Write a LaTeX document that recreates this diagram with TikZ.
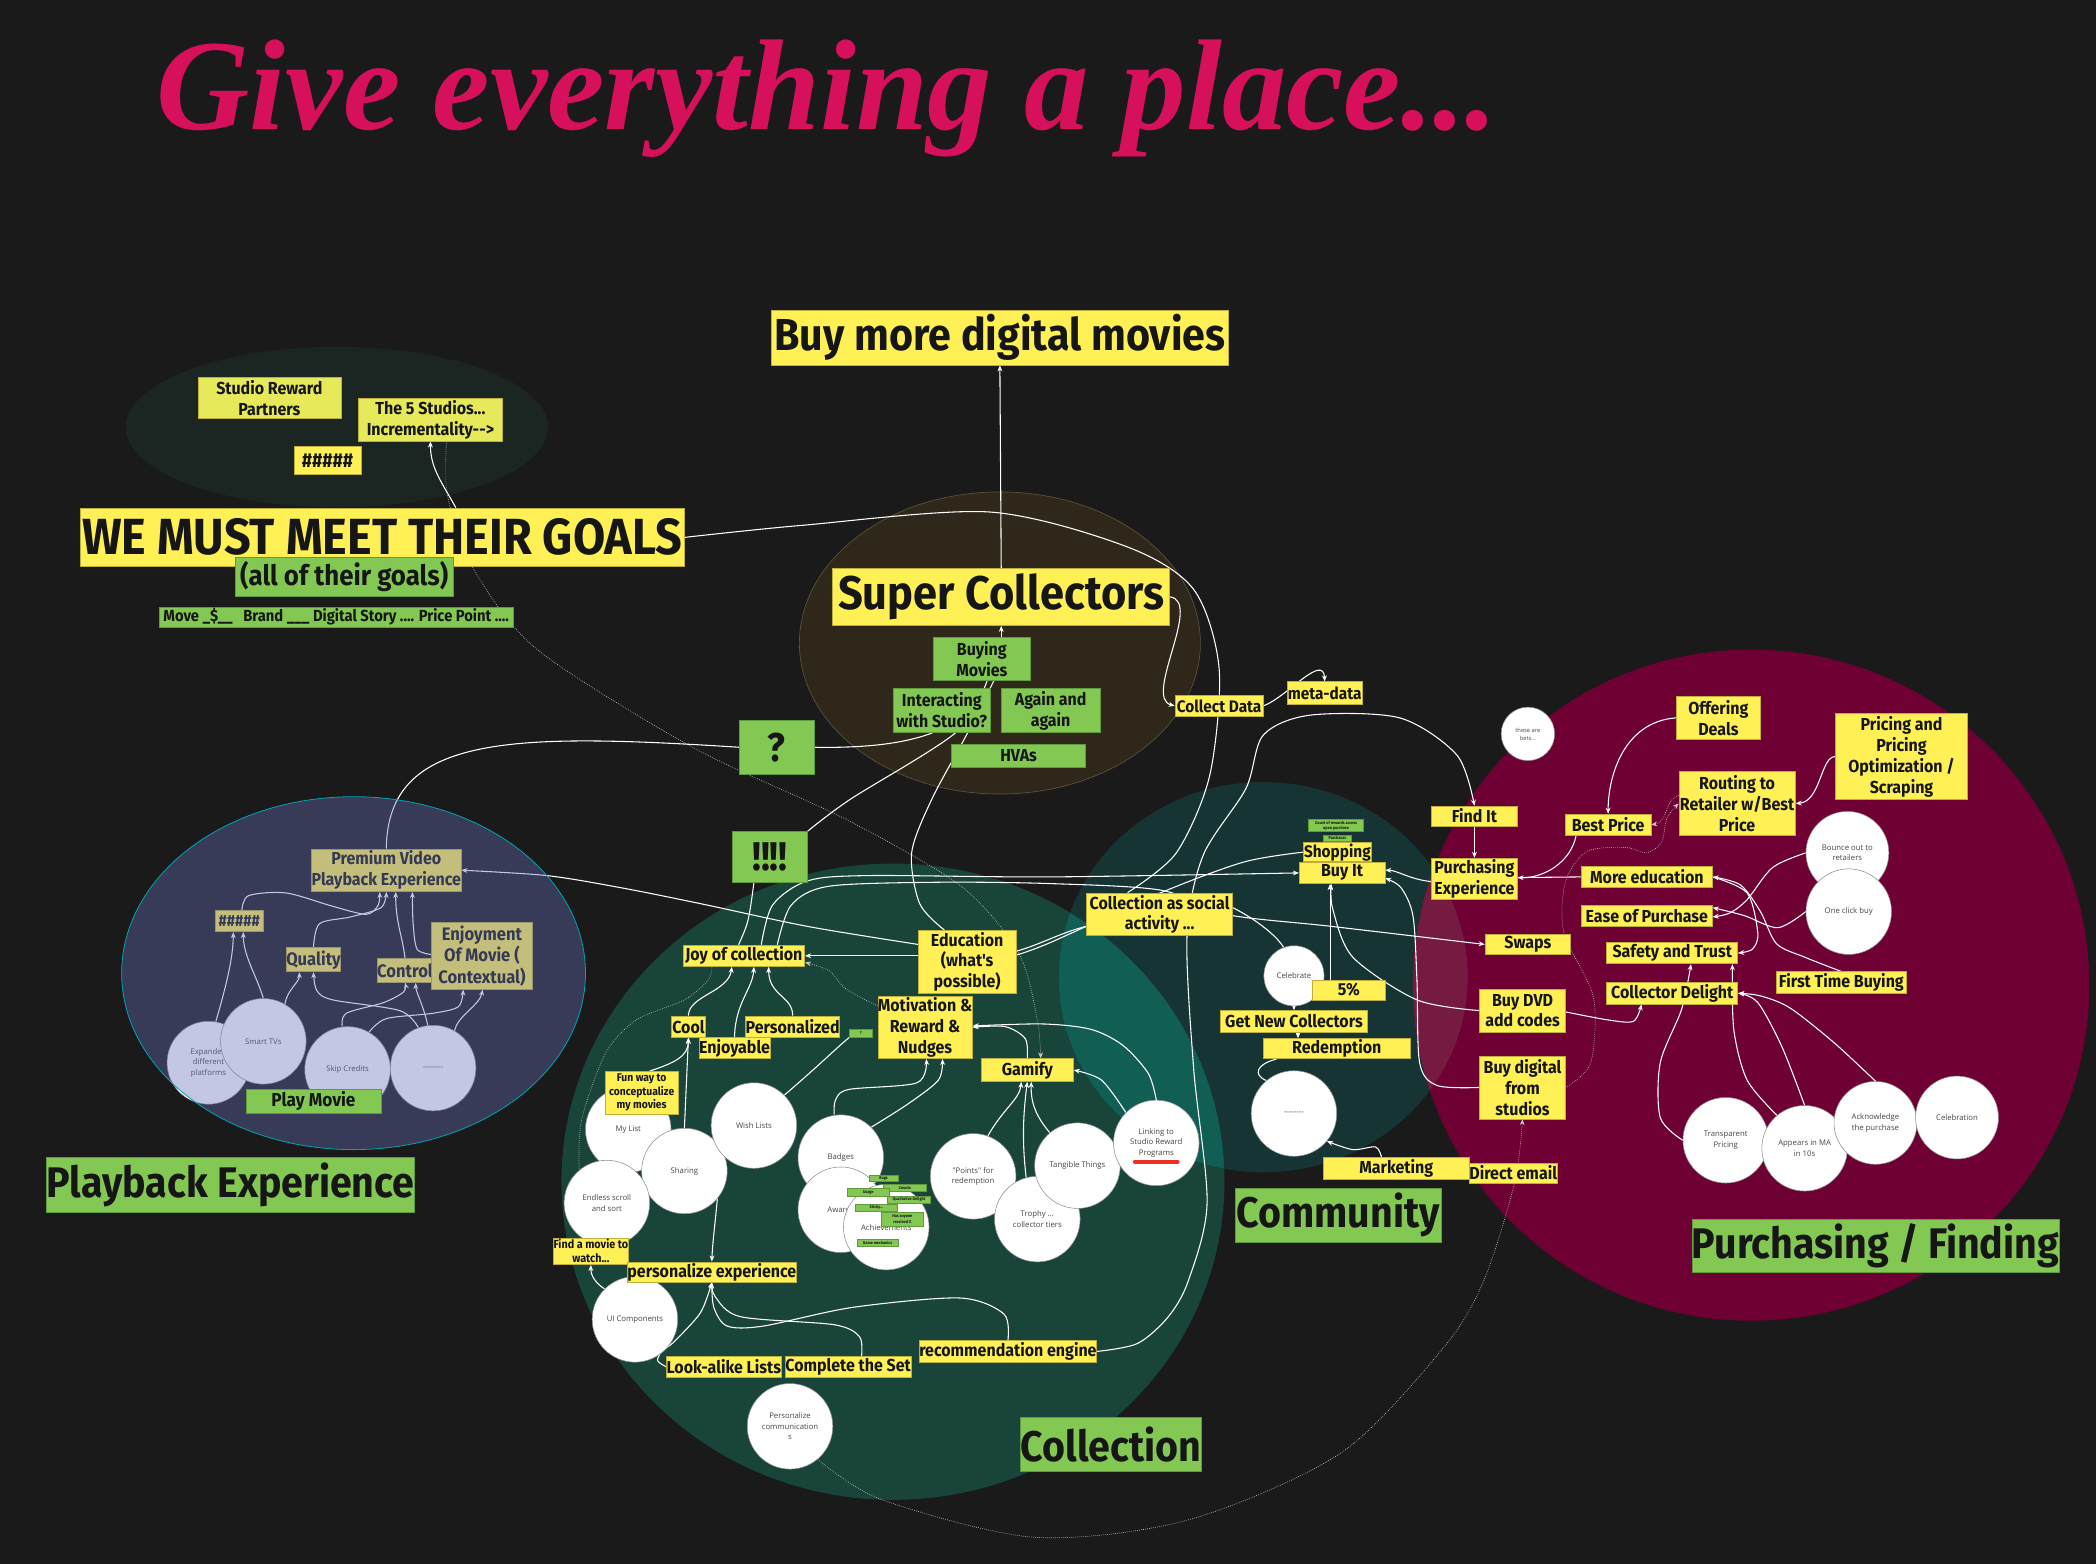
\documentclass[tikz,border=0pt]{standalone}
\usepackage{fontspec}
\usetikzlibrary{arrows.meta,calc}
\newfontfamily\boxfont{Fira Sans}[FakeStretch=0.92]
\newfontfamily\bubfont{Open Sans}
\newfontfamily\headfont{Liberation Serif}
\newcommand\fsz[1]{\fontsize{#1}{\dimexpr#1pt*6/5\relax}\selectfont}

\definecolor{bgC}{RGB}{26,26,26}
\definecolor{studioC}{RGB}{27,37,33}
\definecolor{superC}{RGB}{46,39,26}
\definecolor{superL}{RGB}{92,82,62}
\definecolor{collC}{RGB}{24,68,58}
\definecolor{commC}{RGB}{22,52,52}
\definecolor{ccOv}{RGB}{17,94,84}
\definecolor{purC}{RGB}{111,0,52}
\definecolor{cpOv}{RGB}{117,27,66}
\definecolor{pbC}{RGB}{103,113,185}
\definecolor{pbL}{RGB}{0,165,175}
\definecolor{yel}{RGB}{255,240,85}
\definecolor{yelP}{RGB}{229,233,90}
\definecolor{yelD}{RGB}{190,175,60}
\definecolor{grn}{RGB}{132,200,84}
\definecolor{grnD}{RGB}{95,155,60}
\definecolor{ink}{RGB}{22,22,22}
\definecolor{ringC}{RGB}{140,140,140}
\definecolor{bubT}{RGB}{70,70,70}
\definecolor{titleC}{RGB}{215,16,92}
\definecolor{redbar}{RGB}{236,48,40}

\pgfdeclarelayer{bg}
\pgfdeclarelayer{edges}
\pgfdeclarelayer{over}
\pgfdeclarelayer{top}
\pgfsetlayers{bg,edges,main,over,top}

\tikzset{
  wh/.style 2 args={minimum width=#1, minimum height=#2},
  fs/.style={font=\boxfont\bfseries\fsz{#1}},
  base/.style={inner sep=0pt, align=center, text=ink, fs=13},
  ybox/.style={base, fill=yel, draw=yelD, line width=0.5pt},
  pbox/.style={base, fill=yelP, draw=yelD, line width=0.5pt},
  gbox/.style={base, fill=grn, draw=grnD, line width=0.5pt},
  gtag/.style={inner sep=0pt, align=center, text=ink, fill=grn, draw=grnD, line width=0.3pt,
    font=\boxfont\bfseries\fontsize{3.1}{3.8}\selectfont},
  bubble/.style={circle, fill=white, draw=ringC, line width=0.4pt, minimum size=64pt,
    inner sep=0pt, align=center, text=bubT, font=\bubfont\fontsize{5.8}{7.8}\selectfont},
  dia/.style={minimum size=#1},
  wire/.style={draw=white, line width=0.8pt},
  arr/.style={wire, -{Stealth[length=4.5pt,width=3.6pt]}},
  dots/.style={draw=white!78!black, line width=0.5pt, densely dotted},
  darr/.style={dots, -{Stealth[length=4.5pt,width=3.6pt]}},
}

\begin{document}
\begin{tikzpicture}[x=1pt,y=-1pt]
\useasboundingbox (0,0) rectangle (1568,1170);

% ---------- regions ----------
\begin{pgfonlayer}{bg}
\fill[bgC] (0,0) rectangle (1568,1170);
\fill[studioC] (252,319.5) ellipse [x radius=158, y radius=60];
\fill[superC] (748,481) ellipse [x radius=150, y radius=113];
\draw[superL, line width=0.5pt] (748,481) ellipse [x radius=150, y radius=113];
\fill[collC] (668,884) ellipse [x radius=248, y radius=238];
\fill[commC] (945,731) ellipse [x radius=153, y radius=146];
\begin{scope}
  \clip (668,884) ellipse [x radius=248, y radius=238];
  \fill[ccOv] (945,731) ellipse [x radius=153, y radius=146];
\end{scope}
\fill[purC] (1310,737) ellipse [x radius=253, y radius=251];
\begin{scope}
  \clip (945,731) ellipse [x radius=153, y radius=146];
  \fill[cpOv] (1310,737) ellipse [x radius=253, y radius=251];
\end{scope}
\end{pgfonlayer}

% ---------- heading ----------
\node[anchor=base west, inner sep=0pt, text=titleC] (title) at (117,97)
  {\resizebox{1003pt}{!}{\headfont\bfseries\itshape Give everything a place...}};

% ---------- goals ----------
\node[ybox, wh={342}{41}, fs=33.5] (buy) at (748,252.5) {Buy more digital movies};
\node[pbox, wh={107}{31}] (srp) at (201.5,297.5) {Studio Reward\\Partners};
\node[pbox, wh={108}{32}] (five) at (322,314) {The 5 Studios...\\Incrementality-{}-{}>};
\node[ybox, wh={50}{21}, fs=15] (hashA) at (245,344.5) {\#\#\#\#\#};
\node[ybox, wh={452}{44}, fs=38] (goals) at (286,402) {WE MUST MEET THEIR GOALS};
\node[gbox, wh={163}{29}, fs=21] (allg) at (257.5,431.5) {(all of their goals)};
\node[gbox, wh={265}{15}, fs=12] (move) at (251.5,461.5) {Move \_\$\_\_ \ \ Brand \_\_\_ Digital Story .... Price Point ....};

% ---------- super collectors ----------
\node[ybox, wh={252}{43}, fs=35.3] (super) at (749,446.5) {Super Collectors};
\node[gbox, wh={73}{32}] (buying) at (734.5,493) {Buying\\Movies};
\node[gbox, wh={73}{33}] (interact) at (704.5,531.5) {Interacting\\with Studio?};
\node[gbox, wh={74}{33}] (again) at (786,531.5) {Again and\\again};
\node[gbox, wh={100}{17}] (hvas) at (762,565.5) {HVAs};
\node[gbox, wh={56}{40}, fs=30] (q) at (581,559) {?};
\node[ybox, wh={66}{16}, fs=12.5] (cdata) at (912,528) {Collect Data};
\node[ybox, wh={56}{17}, fs=12.5] (meta) at (991,518.5) {meta-data};

% ---------- playback ----------
\node[bubble, dia=62] (expd) at (156,795) {Expanded\\different\\platforms};
\node[bubble] (smart) at (197,779) {Smart TVs};
\node[bubble] (skip) at (260,800) {Skip Credits};
\node[bubble] (dashP) at (324,799) {-{}-{}-{}-{}-{}-{}-{}-};
\node[ybox, wh={110}{32}] (prem) at (289,651) {Premium Video\\Playback Experience};
\node[ybox, wh={36}{16}, fs=12] (hashB) at (179,689) {\#\#\#\#\#};
\node[ybox, wh={39}{18}, fs=13.5] (quality) at (234.5,718) {Quality};
\node[ybox, wh={40}{18}, fs=13.5] (control) at (303,726) {Control};
\node[ybox, wh={75}{50}, fs=13.5] (enjoy) at (360.5,715) {Enjoyment\\Of Movie (\\Contextual)};
\node[gbox, wh={275}{41}, fs=32] (pbLabel) at (172.5,886.5) {Playback Experience};

% ---------- collection ----------
\node[gbox, wh={56}{38}, fs=30] (bang) at (576,641) {!!!!};
\node[ybox, wh={91}{16}] (joy) at (556.5,715) {Joy of collection};
\node[ybox, wh={73}{47}] (edu) at (723.5,719.5) {Education\\(what's\\possible)};
\node[ybox, wh={70}{47}] (motiv) at (692,768.5) {Motivation \&\\Reward \&\\Nudges};
\node[ybox, wh={26}{16}] (cool) at (515,768) {Cool};
\node[ybox, wh={70}{16}] (pers) at (593,768) {Personalized};
\node[ybox, wh={51}{16}] (enjoyable) at (549.5,784) {Enjoyable};
\node[ybox, wh={69}{17}] (gamify) at (768.5,800.5) {Gamify};
\node[gtag, wh={17}{6}] (qtag) at (644,773) {?};
\node[bubble] (mylist) at (470,845) {My List};
\node[bubble] (sharing) at (512,876) {Sharing};
\node[bubble] (endless) at (454,900) {Endless scroll\\and sort};
\node[bubble] (wish) at (564,842) {Wish Lists};
\node[ybox, wh={55}{32}, fs=8.4] (fun) at (480,817.5) {Fun way to\\conceptualize\\my movies};
\node[bubble] (badges) at (629,866) {Badges};
\node[bubble] (awards) at (629,905) {Awards};
\node[bubble] (achieve) at (663,918) {\\[-2pt]Achievements};
\node[gtag, wh={22}{5}] (t1) at (661,881.5) {Bags};
\node[gtag, wh={32}{5}] (t2) at (677,888.5) {Counts};
\node[gtag, wh={31}{6}] (t3) at (649.5,892) {Usage};
\node[gtag, wh={32}{5}] (t4) at (680,897.5) {Qualitative Delight};
\node[gtag, wh={31}{5}] (t5) at (655.5,903.5) {Sticky...};
\node[gtag, wh={32}{10}] (t6) at (675,912) {Has anyone\\received X};
\node[gtag, wh={31}{5}] (t7) at (656.5,929.5) {Game mechanics};
\node[bubble] (points) at (728,880) {"Points" for\\redemption};
\node[bubble] (trophy) at (776,912) {Trophy ...\\collector tiers};
\node[bubble] (tangible) at (806,872) {Tangible Things};
\node[bubble] (linking) at (865,855) {Linking to\\Studio Reward\\Programs};
\draw[redbar, line width=3pt, line cap=round] ($(linking.center)+(-16,14)$) -- ($(linking.center)+(16,14)$);
\node[bubble] (ui) at (475,987) {UI Components};
\node[bubble] (pcomm) at (591,1067) {Personalize\\communication\\s};
\node[ybox, wh={56}{20}, fs=8.8] (findm) at (442,936) {Find a movie to\\watch...};
\node[ybox, wh={123}{15}] (persx) at (532.5,951.5) {personalize experience};
\node[ybox, wh={85}{15}] (lookalike) at (541.5,1022.5) {Look-alike Lists};
\node[ybox, wh={93}{15}] (complete) at (634.5,1022.5) {Complete the Set};
\node[ybox, wh={128}{16}] (recom) at (754,1011) {recommendation engine};
\node[gbox, wh={136}{41}, fs=32] (colLabel) at (831,1080.5) {Collection};

% ---------- community ----------
\node[ybox, wh={109}{32}] (social) at (867.5,684) {Collection as social\\activity ...};
\node[ybox, wh={51}{14}, fs=12.5] (shop) at (1000.5,637.5) {Shopping};
\node[ybox, wh={64}{16}] (buyit) at (1004,653) {Buy It};
\node[gtag, wh={41}{9}] (tag1) at (999.5,617.5) {Count of rewards access\\upon purchase};
\node[gtag, wh={21}{4.5}] (tag2) at (1000.5,627) {Purchases};
\node[bubble, dia=45] (celebrate) at (968,730) {Celebrate};
\node[ybox, wh={54}{15}] (fivep) at (1009,740.5) {5\%};
\node[ybox, wh={110}{16}] (getnew) at (968,764) {Get New Collectors};
\node[ybox, wh={110}{15}] (redem) at (1000,784.5) {Redemption};
\node[bubble] (dashC) at (968,833) {-{}-{}-{}-{}-{}-{}-{}-};
\node[ybox, wh={109}{16}] (mkt) at (1044.5,874) {Marketing};
\node[ybox, wh={64}{15}] (demail) at (1132,877.5) {Direct email};
\node[gbox, wh={154}{40}, fs=32] (comLabel) at (1001,909) {Community};

% ---------- purchasing ----------
\node[bubble, dia=40, font=\bubfont\fontsize{4.3}{6}\selectfont] (bets) at (1143,549) {these are\\bets...};
\node[ybox, wh={63}{32}] (offer) at (1285.5,537) {Offering\\Deals};
\node[ybox, wh={99}{64}] (pricing) at (1422.5,566) {Pricing and\\Pricing\\Optimization /\\Scraping};
\node[ybox, wh={87}{48}] (routing) at (1299.5,601) {Routing to\\Retailer w/Best\\Price};
\node[ybox, wh={64}{15}] (findit) at (1103,610.5) {Find It};
\node[ybox, wh={64}{16}] (bestp) at (1203,617) {Best Price};
\node[ybox, wh={64}{31}] (pexp) at (1103,657.5) {Purchasing\\Experience};
\node[ybox, wh={98}{16}] (moreed) at (1232,656) {More education};
\node[ybox, wh={98}{16}] (ease) at (1232,685) {Ease of Purchase};
\node[ybox, wh={64}{15}] (swaps) at (1143,706.5) {Swaps};
\node[ybox, wh={98}{16}] (safety) at (1251,713) {Safety and Trust};
\node[ybox, wh={98}{16}] (delight) at (1251,743) {Collector Delight};
\node[ybox, wh={97}{16}] (ftb) at (1377.5,735) {First Time Buying};
\node[ybox, wh={64}{32}] (dvd) at (1139,756) {Buy DVD\\add codes};
\node[ybox, wh={64}{47}] (bdig) at (1139,813.5) {Buy digital\\from\\studios};
\node[bubble, dia=62] (bounce) at (1382,638) {Bounce out to\\retailers};
\node[bubble] (oneclick) at (1383,682) {One click buy};
\node[bubble] (transp) at (1291,853) {Transparent\\Pricing};
\node[bubble] (appears) at (1350,859) {Appears in MA\\in 10s};
\node[bubble, dia=62] (ack) at (1403,840) {Acknowledge\\the purchase};
\node[bubble, dia=62] (celeb) at (1464,836) {Celebration};
\node[gbox, wh={274}{40}, fs=32] (pfLabel) at (1403,932) {Purchasing / Finding};

% ---------- connectors ----------
\begin{pgfonlayer}{edges}
% goals and super collectors
\draw[arr] (super.north) -- (buy.south);
\draw[arr] (buying.north -| super.south) -- (super.south);
\draw[wire] plot[smooth] coordinates {(goals.east) (600,393) (740,383) (843,409) (893,441) (912,500) (905,580) (880,638) ($(social.north)+(-24,0)$)};
\draw[arr] ($(goals.north)+(55,0)$) .. controls (330,360) and (322,350) .. (five.south);
\draw[darr] plot[smooth] coordinates {($(five.south)+(12,0)$) (335,372) (354,425) (402,486) (520,560) (633,613) (719,663) (762,713) (776,763) ($(gamify.north)+(10,0)$)};
\draw[arr] (super.east) .. controls (900,450) and (855,522) .. (cdata.west);
\draw[arr] (cdata.east) .. controls (962,522) and (990,488) .. (meta.north);
\draw[wire] (q.east) .. controls (660,560) and (685,553) .. ($(interact.south)+(-7,0)$);
\draw[wire] (q.west) .. controls (380,548) and (290,550) .. (prem.north);
\draw[wire] plot[smooth] coordinates {($(buying.south)+(4,0)$) (715,548) (636,598) (bang.north east)};
\draw[wire] plot[smooth] coordinates {($(buying.south)+(9,0)$) (724,548) (697,598) (682,638) (688,676) ($(edu.north)+(-17,0)$)};

% playback
\draw[arr] plot[smooth] coordinates {($(hashB.north)+(2,0)$) (186,670) (214,668) (249,678) (274,684) (283,677) ($(prem.south)+(-5,0)$)};
\draw[arr] plot[smooth] coordinates {(quality.north) (239,691) (262,686) (285,679) (prem.south)};
\draw[arr] (control.north) .. controls (301,700) and (296,690) .. ($(prem.south)+(7,0)$);
\draw[arr] plot[smooth] coordinates {($(enjoy.west)+(0,-1)$) (312,710) (309,690) ($(prem.south)+(19.5,0)$)};
\draw[arr] (expd.80) .. controls (170,735) and (174.5,715) .. ($(hashB.south)+(-4.5,0)$);
\draw[arr] (smart.north) .. controls (192,730) and (182,715) .. ($(hashB.south)+(3,0)$);
\draw[arr] (smart.60) .. controls (215,740) and (224,735) .. ($(quality.south)+(-10.5,0)$);
\draw[arr] plot[smooth] coordinates {(dashP.110) (299,756) (249,748) (237,741) (quality.south)};
\draw[arr] plot[smooth] coordinates {($(skip.north)+(-4,0)$) (259,758) (287,750) (302,742) (control.south)};
\draw[arr] ($(dashP.north)+(-4,0)$) .. controls (316,750) and (311,742) .. ($(control.south)+(8,0)$);
\draw[arr] plot[smooth] coordinates {(skip.60) (289,762) (324,758) (343,753) ($(enjoy.south)+(-14,0)$)};
\draw[arr] (dashP.60) .. controls (342,760) and (359,752) .. ($(enjoy.south)+(0.5,0)$);

% collection
\draw[arr] plot[smooth] coordinates {($(edu.west)+(0,-13)$) (604,693) (524,676) (464,664) (409,655) (prem.east)};
\draw[arr] (edu.west |- joy.east) -- (joy.east);
\draw[darr] plot[smooth] coordinates {($(motiv.west)+(0,-16)$) (633,740) (620,726) ($(joy.east)+(0,5)$)};
\draw[arr] (cool.north) .. controls (515,745) and (545,742) .. ($(joy.south)+(-9,0)$);
\draw[arr] (enjoyable.north) .. controls (550,750) and (563,740) .. ($(joy.south)+(7.5,0)$);
\draw[arr] (pers.north) .. controls (593,745) and (575,745) .. ($(joy.south)+(18.5,0)$);
\draw[wire] ($(bang.south)+(-12,0)$) .. controls (560,690) .. ($(joy.north)+(-4,0)$);
\draw[arr] plot[smooth] coordinates {($(joy.north)+(13,0)$) (578,677) (604,659) (650,655) (786,656) (buyit.west)};
\draw[arr] plot[smooth] coordinates {($(joy.north)+(25,0)$) (592,677) (620,663) (700,660) (786,661) (869,666) (917,684) (996,693) (swaps.west)};
\draw[wire] ($(social.east)+(0,-5)$) .. controls (940,688) and (955,700) .. (celebrate.110);
\draw[wire] ($(edu.east)+(0,-8)$) .. controls (775,708) and (795,697) .. ($(social.west)+(0,9)$);
\draw[wire] plot[smooth] coordinates {(shop.west) (930,645) (868,668) (786,705) ($(edu.east)+(0,-5)$)};
\draw[wire] (wish.45) .. controls (615,795) and (630,780) .. (qtag.south west);
\draw[arr] plot[smooth] coordinates {($(badges.north)+(-5,0)$) (625,823) (635,815) (686,810) ($(motiv.south)+(1,0)$)};
\draw[arr] plot[smooth] coordinates {(badges.45) (679,826) (702,808) ($(motiv.south)+(13,0)$)};
\draw[arr] plot[smooth] coordinates {(gamify.north) (767,777) (752,768) (motiv.east)};
\draw[arr] plot[smooth] coordinates {(linking.north) (859,803) (840,782) (816,770) (780,766) ($(motiv.east)+(0,-1)$)};
\draw[arr] plot[smooth] coordinates {(linking.135) (824,808) (gamify.east)};
\draw[arr] (points.70) .. controls (750,830) and (763,822) .. ($(gamify.south)+(-4.5,0)$);
\draw[arr] (trophy.105) .. controls (764,850) and (766,830) .. (gamify.south);
\draw[arr] (tangible.130) .. controls (775,835) and (771,825) .. ($(gamify.south)+(3,0)$);
\draw[arr] ($(fun.north)+(6,0)$) .. controls (505,795) and (515,790) .. (cool.south);
\draw[arr] (sharing.north) -- (cool.south);
\draw[arr] (sharing.-40) .. controls (535,915) and (533,930) .. (persx.north);
\draw[dots] plot[smooth] coordinates {($(joy.south)+(-24,0)$) (530,733) (512,748) (476,763) (453,788) (435,838) (endless.130)};
\draw[arr] (ui.135) .. controls (446,960) and (442,955) .. (findm.south);
\draw[arr] plot[smooth] coordinates {(lookalike.west) (492,1018) (495,1011) (504,1004) (524,982) (persx.south)};
\draw[arr] plot[smooth] coordinates {($(complete.north)+(10,0)$) (643,1000) (624,991) (554,985) (535,970) (persx.south)};
\draw[arr] plot[smooth] coordinates {(recom.north) (751,983) (718,971) (638,978) (571,992) (544,992) (534,978) (persx.south)};
\draw[arr] plot[smooth] coordinates {(recom.east) (851,1005) (874,985) (889,958) (903,900) (893,800) (888,700) (900,640) (932,590) (945,550) (980,535) (1047,537) (1090,565) (findit.north)};
\draw[darr] plot[smooth] coordinates {(pcomm.-50) (660,1122) (774,1150) (889,1137) (1003,1087) (1080,1008) (1110,958) (1133,885) (bdig.south)};

% community
\draw[arr] ($(pexp.west)+(0,2)$) .. controls (1055,658) and (1045,651) .. ($(buyit.east)+(0,-2)$);
\draw[arr] plot[smooth] coordinates {(bdig.west) (1075,812) (1062,795) (1060,733) (1057,685) (1048,664) ($(buyit.east)+(0,4)$)};
\draw[arr] plot[smooth] coordinates {(dvd.west) (1060,748) (1012,716) (997,680) ($(buyit.south)+(-8,0)$)};
\draw[arr] ($(fivep.north)+(-14,0)$) -- ($(buyit.south)+(-9,0)$);
\draw[arr] (celebrate.south -| getnew.north) -- (getnew.north);
\draw[arr] ($(getnew.south)+(3,0)$) -- ($(redem.north)+(-29,0)$);
\draw[wire] ($(redem.south)+(-45,0)$) .. controls (940,796) and (937,804) .. (dashC.130);
\draw[arr] plot[smooth] coordinates {($(mkt.north)+(-11,0)$) (1029,858) (1012,860) (dashC.-40)};

% purchasing
\draw[arr] (findit.south) -- (pexp.north);
\draw[arr] ($(bestp.south)+(-24,0)$) .. controls (1175,645) and (1155,657) .. ($(pexp.east)+(0,-1)$);
\draw[wire] (moreed.west) -- ($(pexp.east)+(0,-1)$);
\draw[arr] (offer.west) .. controls (1215,540) and (1203,580) .. (bestp.north);
\draw[arr] (pricing.west) .. controls (1362,566) and (1362,600) .. (routing.east);
\draw[darr] ($(routing.west)+(0,-6)$) .. controls (1245,598) and (1248,615) .. (bestp.east);
\draw[darr] plot[smooth] coordinates {(bdig.east) (1190,795) (1192,746) (1170,698) (1171,660) (1187,637) (1216,634) (1232,638) (1243,630) (1247,612) (routing.west)};
\draw[arr] plot[smooth] coordinates {(ftb.north) (1350,716) (1329,706) (1317,682) (1302,662) (moreed.east)};
\draw[arr] plot[smooth] coordinates {(moreed.east) (1307,668) (1315,698) (1311,710) (safety.east)};
\draw[arr] plot[smooth] coordinates {(bounce.west) (1326,649) (1307,673) (1294,683) ($(ease.east)+(0,1)$)};
\draw[arr] plot[smooth] coordinates {(oneclick.west) (1330,694) (1305,685) ($(ease.east)+(0,-6)$)};
\draw[arr] plot[smooth] coordinates {(transp.west) (1242,836) (1242,795) (1258,755) ($(safety.south)+(14,0)$)};
\draw[arr] plot[smooth] coordinates {(appears.130) (1307,808) (1297,770) ($(safety.south)+(45,0)$)};
\draw[arr] plot[smooth] coordinates {(appears.north) (1333,783) (1315,750) (delight.east)};
\draw[arr] plot[smooth] coordinates {(ack.north) (1372,780) (1339,754) (1317,745) (delight.east)};
\draw[arr] plot[smooth] coordinates {($(dvd.east)+(0,1)$) (1203,763) (1222,764) ($(delight.south)+(-23,0)$)};
\end{pgfonlayer}

% ---------- playback veil ----------
\begin{pgfonlayer}{over}
\fill[pbC, fill opacity=0.39] (264.5,728) ellipse [x radius=173.5, y radius=132];
\draw[pbL, line width=0.6pt] (264.5,728) ellipse [x radius=173.5, y radius=132];
\end{pgfonlayer}
\begin{pgfonlayer}{top}
\node[gbox, wh={101}{18}, fs=14] (play) at (234.5,824) {Play Movie};
\end{pgfonlayer}
\end{tikzpicture}
\end{document}
